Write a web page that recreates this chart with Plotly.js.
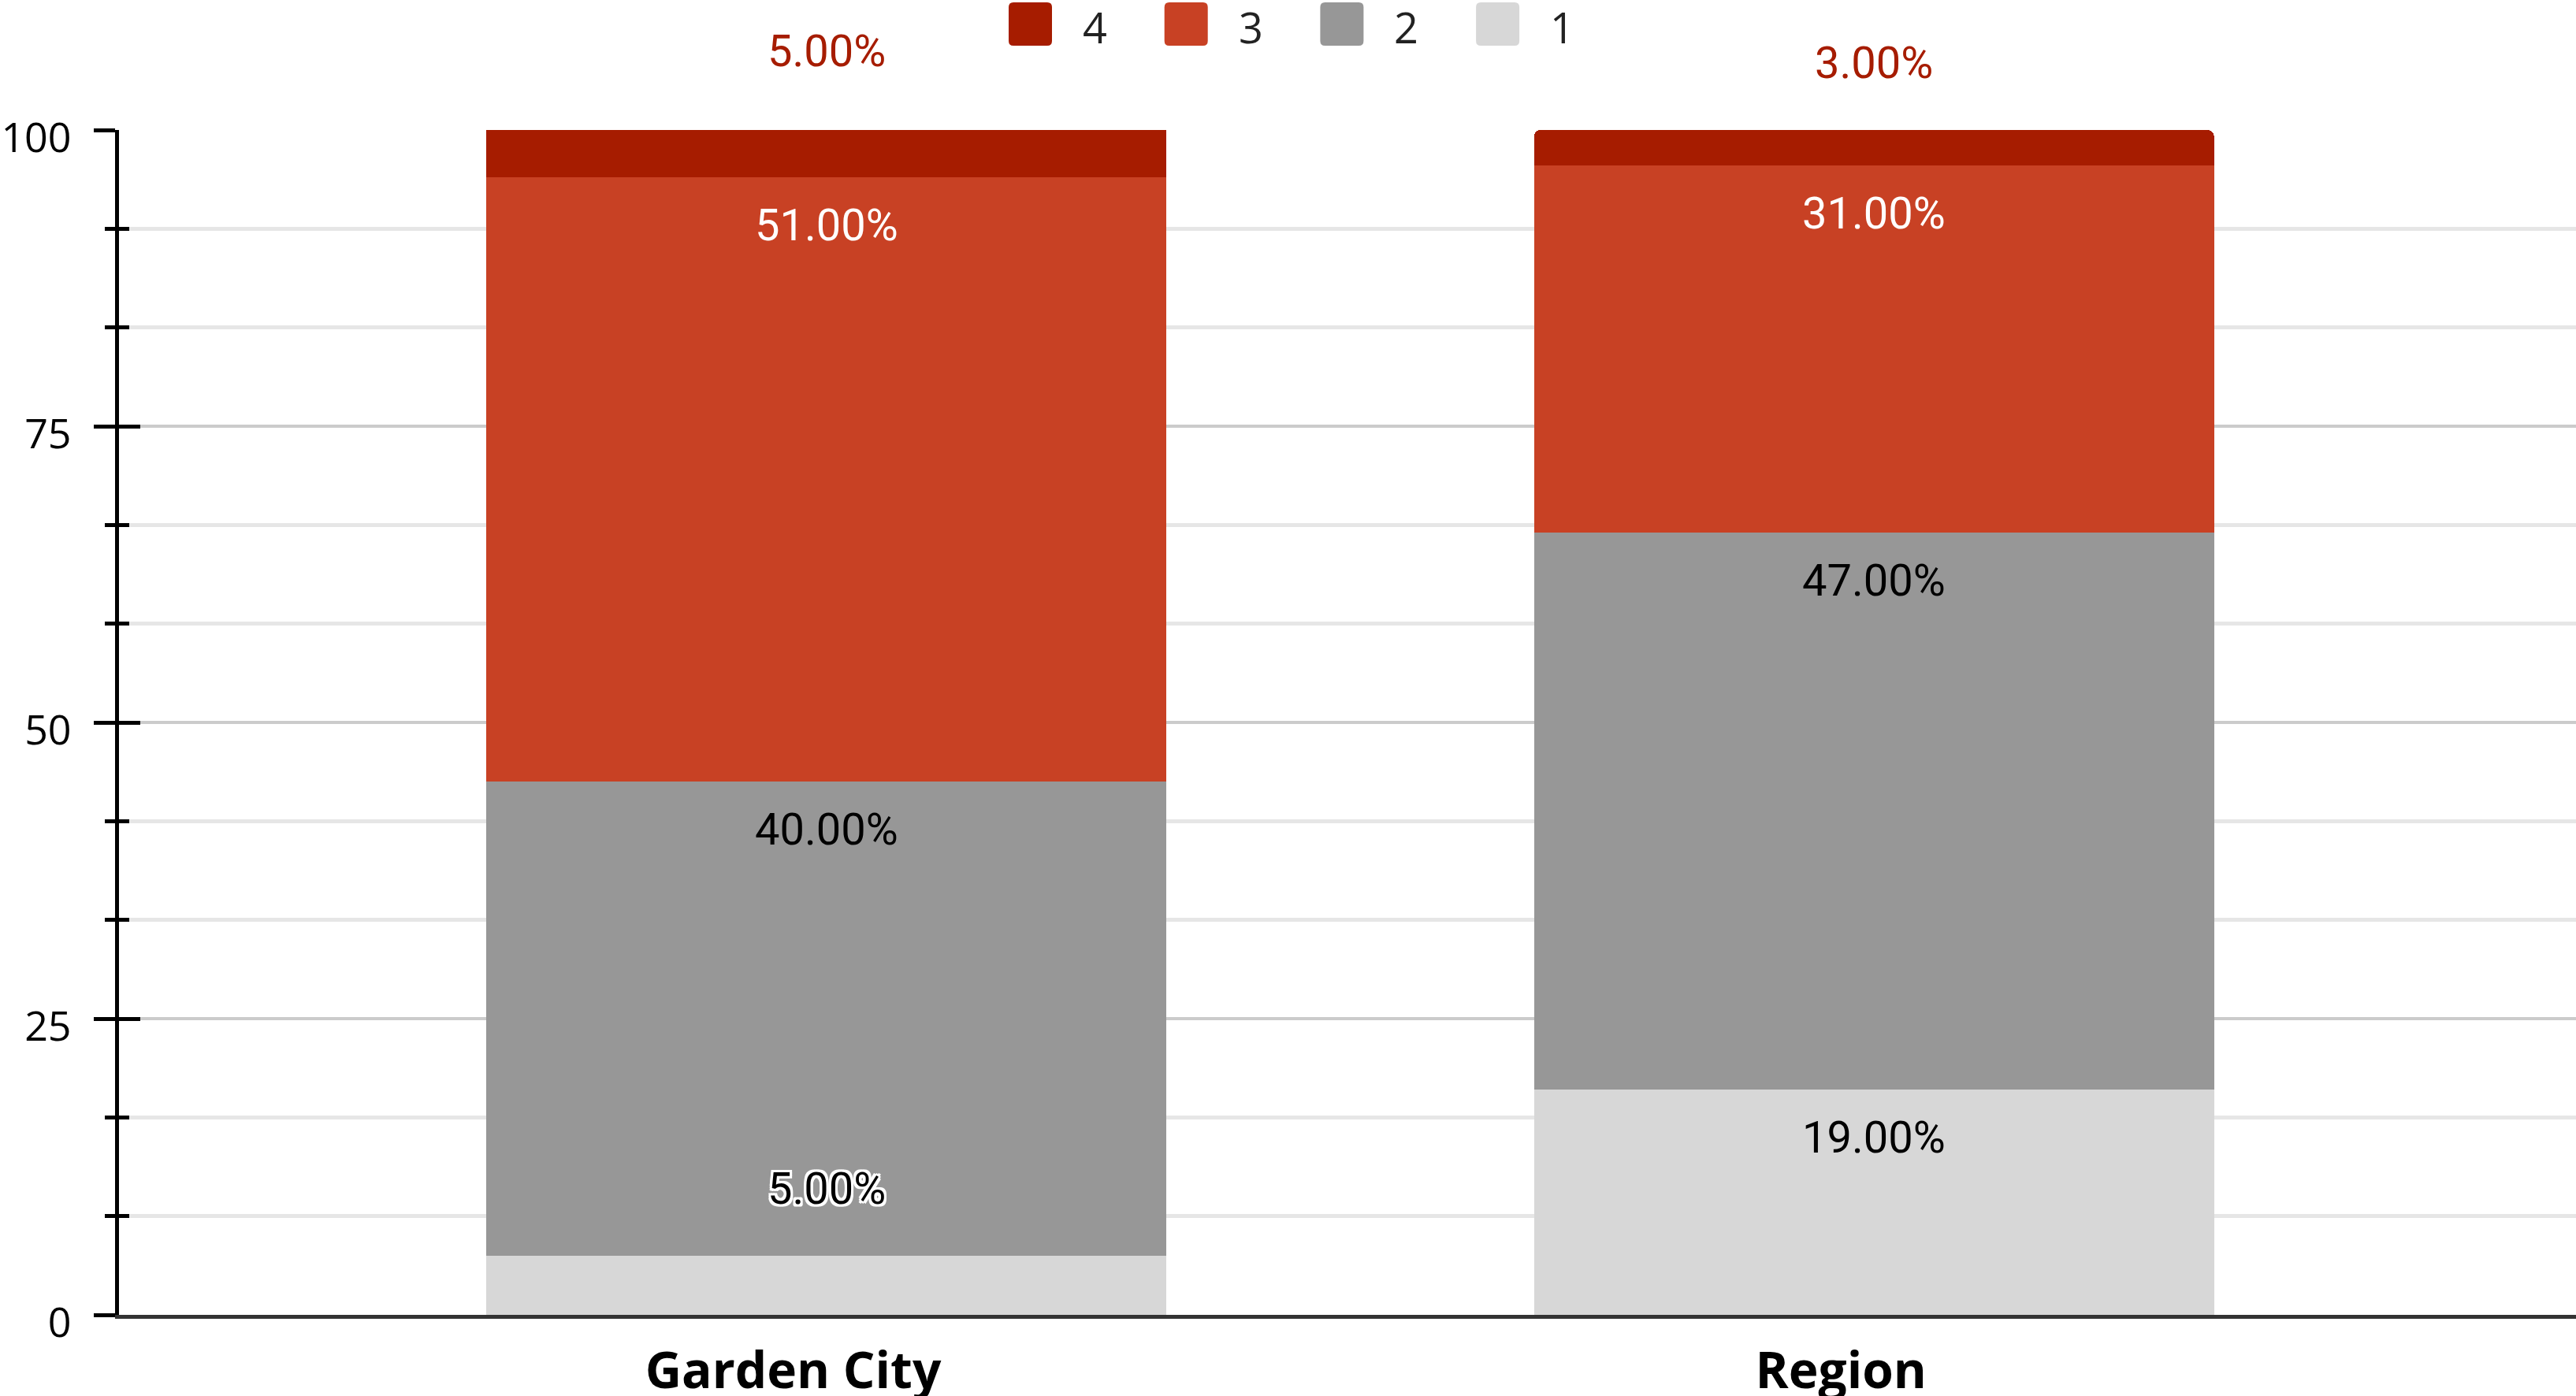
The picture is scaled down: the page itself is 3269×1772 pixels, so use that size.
<!DOCTYPE html>
<html>
<head>
<meta charset="utf-8">
<script src="https://cdn.plot.ly/plotly-3.0.1.min.js"></script>
<style>
  html, body { margin: 0; padding: 0; background: #ffffff; }
  #chart { width: 3269px; height: 1772px; }
</style>
</head>
<body>
<div id="chart"></div>
<script>
// ---------------- data ----------------
const categories = ['Garden City', 'Region'];
const seriesNames = ['1', '2', '3', '4'];
const series1 = [5, 19];
const series2 = [40, 47];
const series3 = [51, 31];
const series4 = [5, 3];
const yTickVals = [0, 25, 50, 75, 100];
const yTickText = ['0', '25', '50', '75', '100'];

// ---------------- styling ----------------
const colors = ['#d7d7d7', '#979797', '#c84124', '#a61c00'];
const labelColors = ['#000000', '#000000', '#ffffff', '#a61c00'];
const W = 3269, H = 1772;
const M = { l: 151, r: 0, t: 165, b: 103 };
const pw = W - M.l - M.r, ph = H - M.t - M.b;
const yRange = [0, 100];
const px2paperX = px => (px - M.l) / pw;
const px2paperY = py => (H - M.b - py) / ph;

const allSeries = [series1, series2, series3, series4];
const fmt = v => v.toFixed(2) + '%';
const labelFont = { family: 'Roboto, sans-serif', size: 56 };

const traces = allSeries.map((vals, i) => ({
  type: 'bar',
  name: seriesNames[i],
  x: categories,
  y: vals,
  width: 0.649,
  marker: { color: colors[i], line: { width: 0 } },
  showlegend: false,
  hoverinfo: 'skip'
}));
// empty helper trace so the overlaying axis (inner tick marks) is drawn
traces.push({
  type: 'scatter', mode: 'markers', x: categories, y: categories.map(() => null),
  yaxis: 'y2', showlegend: false, hoverinfo: 'skip'
});

// value labels
const annotations = [];
const halo = ['3px 3px 0 #fff', '-3px -3px 0 #fff', '3px -3px 0 #fff', '-3px 3px 0 #fff',
  '0 3px 0 #fff', '3px 0 0 #fff', '0 -3px 0 #fff', '-3px 0 0 #fff'].join(', ');
categories.forEach((cat, ci) => {
  let cum = 0;
  for (let si = 0; si < allSeries.length; si++) {
    const v = allSeries[si][ci];
    cum += v;
    const isTop = si === allSeries.length - 1;
    if (isTop) {
      // outside label above the end of the stack (may lie above the axis range)
      annotations.push({
        x: cat, xref: 'x',
        y: (cum - yRange[0]) / (yRange[1] - yRange[0]), yref: 'paper',
        text: fmt(v), showarrow: false,
        xanchor: 'center', yanchor: 'middle', yshift: 85,
        font: Object.assign({ color: labelColors[si] }, labelFont)
      });
    } else {
      const fits = v >= 8;
      annotations.push({
        x: cat, y: cum, xref: 'x', yref: 'y',
        text: fmt(v), showarrow: false,
        xanchor: 'center', yanchor: 'middle',
        yshift: fits ? -61 : 85,
        font: Object.assign({ color: labelColors[si] }, labelFont, fits ? {} : { shadow: halo })
      });
    }
  }
});

// custom legend (series in reverse order: 4, 3, 2, 1)
const shapes = [];
const legendStart = 1280, legendStep = 197.7, sw = 55, legendCy = 30.5, r = 6;
const h = sw / 2;
const roundPath = `M${-h + r},${-h} L${h - r},${-h} Q${h},${-h} ${h},${-h + r} L${h},${h - r} Q${h},${h} ${h - r},${h} L${-h + r},${h} Q${-h},${h} ${-h},${h - r} L${-h},${-h + r} Q${-h},${-h} ${-h + r},${-h} Z`;
for (let k = 0; k < seriesNames.length; k++) {
  const si = seriesNames.length - 1 - k;
  const cx = legendStart + h + k * legendStep;
  shapes.push({
    type: 'path', xref: 'paper', yref: 'paper',
    xsizemode: 'pixel', ysizemode: 'pixel',
    xanchor: px2paperX(cx), yanchor: px2paperY(legendCy),
    path: roundPath,
    fillcolor: colors[si], line: { width: 0 }, layer: 'above'
  });
  annotations.push({
    xref: 'paper', yref: 'paper',
    x: px2paperX(legendStart + 92 + k * legendStep), y: px2paperY(legendCy + 4),
    xanchor: 'left', yanchor: 'middle', showarrow: false,
    text: seriesNames[si],
    font: { family: 'Open Sans, sans-serif', size: 54, color: '#222222' }
  });
}

const layout = {
  width: W, height: H,
  margin: M,
  paper_bgcolor: '#ffffff', plot_bgcolor: '#ffffff',
  barmode: 'stack',
  barcornerradius: 8,
  showlegend: false,
  xaxis: {
    type: 'category',
    range: [-0.675, 1.67],
    showline: true, linecolor: '#333333', linewidth: 4.5,
    ticks: '', showgrid: false, zeroline: false,
    ticklabelshift: -42,
    ticklabelstandoff: 12,
    tickfont: { family: 'Open Sans, sans-serif', size: 64, color: '#000000', weight: 'bold' }
  },
  yaxis: {
    range: yRange,
    tickmode: 'array', tickvals: yTickVals, ticktext: yTickText,
    ticks: 'outside', ticklen: 27, tickwidth: 5, tickcolor: '#000000',
    showline: true, linecolor: '#000000', linewidth: 5,
    showgrid: true, gridcolor: '#cbcbcb', gridwidth: 4.5,
    zeroline: false,
    ticklabelstandoff: 18,
    ticklabelshift: 10,
    tickfont: { family: 'Open Sans, sans-serif', size: 52, color: '#000000' },
    minor: {
      tick0: 0, dtick: 25 / 3,
      ticks: 'outside', ticklen: 13, tickwidth: 5, tickcolor: '#000000',
      showgrid: true, gridcolor: '#e6e6e6', gridwidth: 4.5
    }
  },
  yaxis2: {
    overlaying: 'y', side: 'left', anchor: 'x',
    range: yRange,
    tickmode: 'array', tickvals: yTickVals,
    ticks: 'inside', ticklen: 27, tickwidth: 5, tickcolor: '#000000',
    showticklabels: false, showgrid: false, zeroline: false, showline: false,
    minor: {
      tick0: 0, dtick: 25 / 3,
      ticks: 'inside', ticklen: 13, tickwidth: 5, tickcolor: '#000000',
      showgrid: false
    }
  },
  annotations: annotations,
  shapes: shapes
};

Plotly.newPlot('chart', traces, layout, { staticPlot: true, displayModeBar: false });
</script>
</body>
</html>
